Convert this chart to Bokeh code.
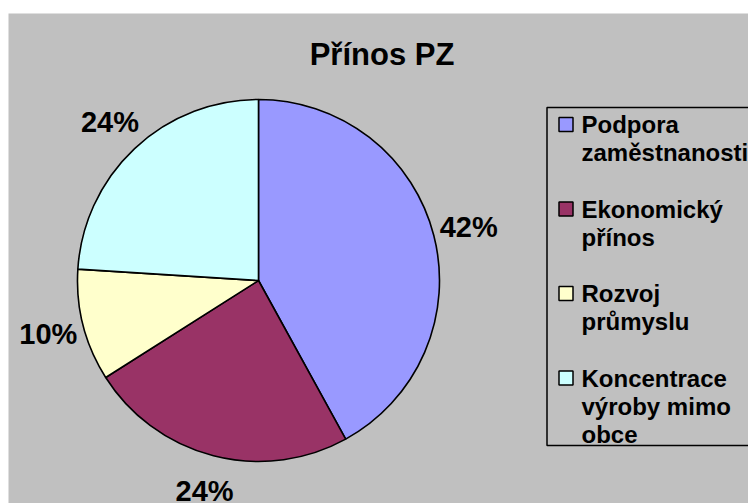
import math
from bokeh.plotting import figure
from bokeh.models import Range1d, Spacer, ColumnDataSource
from bokeh.layouts import column, row
from bokeh.core.properties import value
from bokeh.embed import file_html
from bokeh.resources import INLINE

# ---- data ----
title_text = "Přínos PZ"
categories = ["Podpora\nzaměstnanosti", "Ekonomický\npřínos", "Rozvoj\nprůmyslu",
              "Koncentrace\nvýroby mimo\nobce"]
values = [42, 24, 10, 24]
colors = ["#9999FF", "#993366", "#FFFFCC", "#CCFFFF"]

FONT = value("Liberation Sans")
BG = "#C0C0C0"

LEFT, TOP = 8, 13  # page position of the grey chart area
W, H = 740, 490
p = figure(width=W, height=H, output_backend="svg", toolbar_location=None,
           x_range=Range1d(LEFT, LEFT + W), y_range=Range1d(-(TOP + H), -TOP),
           min_border=0, background_fill_color=BG, border_fill_color=BG,
           outline_line_color=None)
p.axis.visible = False
p.grid.visible = False

# ---- pie ----
cx, cy, r = 258, -280, 181
total = float(sum(values))
starts, ends, cum = [], [], 0.0
for v in values:
    starts.append(math.pi / 2 - 2 * math.pi * cum / total)
    cum += v
    ends.append(math.pi / 2 - 2 * math.pi * cum / total)
src = ColumnDataSource(dict(start=starts, end=ends, color=colors))
p.wedge(x=cx, y=cy, radius=r, start_angle="start", end_angle="end",
        direction="clock", fill_color="color", line_color="black",
        line_width=1.6, source=src)

# ---- data labels ----
d = 217
lx, ly, lt = [], [], []
for s, e, v in zip(starts, ends, values):
    m = (s + e) / 2
    lx.append(cx + d * math.cos(m))
    ly.append(cy + d * math.sin(m))
    lt.append(f"{round(v / total * 100)}%")
p.text(x=lx, y=ly, text=lt, text_font=FONT, text_font_style="bold",
       text_font_size="29px", text_align="center", text_baseline="middle",
       text_color="black")

# ---- title ----
p.text(x=[381.5], y=[-54], text=[title_text], text_font=FONT,
       text_font_style="bold", text_font_size="31px", text_align="center",
       text_baseline="middle", text_color="black")

# ---- legend (drawn) ----
box_l, box_t, box_b = 546.5, -107, -445
p.quad(left=[box_l], right=[box_l + 400], top=[box_t], bottom=[box_b],
       fill_color=None, line_color="black", line_width=1.5)
first_mid, entry_gap, line_gap = 124, 84.5, 28
mx, my, tx, ty, tt = [], [], [], [], []
for i, (cat, col) in enumerate(zip(categories, colors)):
    mid = first_mid + i * entry_gap
    mx.append(565.5)
    my.append(-mid)
    for j, line in enumerate(cat.split("\n")):
        tx.append(581)
        ty.append(-(mid + j * line_gap))
        tt.append(line)
p.rect(x=mx, y=my, width=14, height=14, fill_color=colors, line_color="black",
       line_width=1.5)
p.text(x=tx, y=ty, text=tt, text_font=FONT, text_font_style="bold",
       text_font_size="24px", text_align="left", text_baseline="middle",
       text_color="black")

layout = row(Spacer(width=LEFT, height=TOP + H),
             column(Spacer(height=TOP, width=W), p))
open("out.html", "w").write(file_html(layout, INLINE))
